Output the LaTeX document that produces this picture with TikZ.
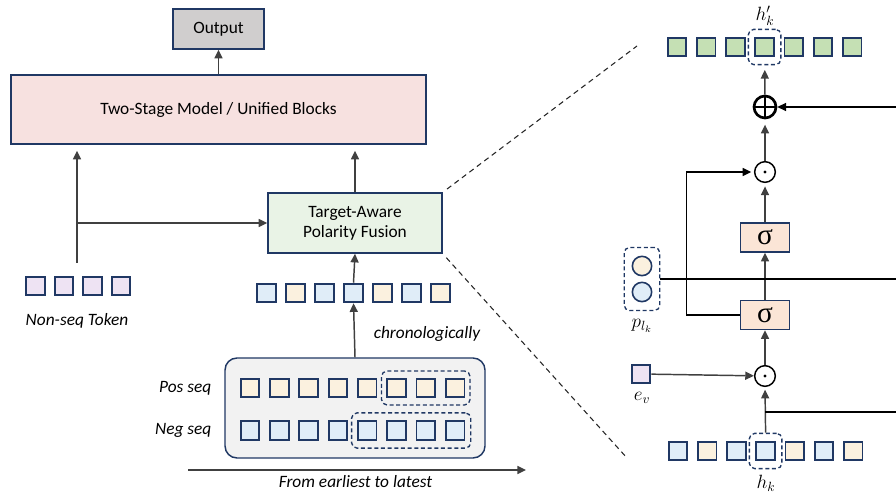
\documentclass[tikz,border=0pt]{standalone}
\usepackage{fontspec}
\setmainfont{Carlito}
\newfontfamily\sigfont{Liberation Serif}
\usetikzlibrary{arrows.meta,fit}

\definecolor{navy}{HTML}{203864}
\definecolor{arrgray}{HTML}{404040}
\definecolor{outgray}{HTML}{D0CECE}
\definecolor{pinkbg}{HTML}{F7E1E0}
\definecolor{greenbg}{HTML}{E9F3E6}
\definecolor{seqbg}{HTML}{F2F2F2}
\definecolor{tb}{HTML}{E0EDF8}
\definecolor{tc}{HTML}{FBF1DF}
\definecolor{tg}{HTML}{C5E0B4}
\definecolor{lav}{HTML}{EEE3F3}
\definecolor{peach}{HTML}{FBE5D6}

\begin{document}
\begin{tikzpicture}
  [x=0.75pt,y=-0.75pt,font=\fontsize{13}{15}\selectfont,
   box/.style={draw=navy,line width=1.1pt,inner sep=0pt,align=center},
   tok/.style={draw=navy,line width=1.4pt,minimum size=14pt,inner sep=0pt},
   dot/.style={circle,draw=navy,line width=1.2pt,minimum size=14.5pt,inner sep=0pt},
   grp/.style={draw=navy,line width=1pt,dash pattern=on 3pt off 2pt,rounded corners=4pt,inner sep=0pt},
   arr/.style={draw=arrgray,line width=1.1pt,-{Triangle[length=6.5pt,width=6pt]}},
   arrk/.style={draw=black,line width=1.1pt,-{Triangle[length=6.5pt,width=6pt]}},
   wire/.style={draw=black,line width=1.1pt},
   zoomln/.style={draw=black!85,line width=0.8pt,dash pattern=on 4pt off 3pt},
   lbl/.style={font=\fontsize{14}{16}\selectfont},
   ital/.style={font=\fontsize{13}{15}\selectfont\itshape},
   sig/.style={box,fill=peach,minimum width=36.8pt,minimum height=21.8pt,font=\sigfont\fontsize{22}{22}\selectfont},
   odot/.style={circle,draw=black,line width=1.1pt,minimum size=15.5pt,inner sep=0pt,
     path picture={\fill (path picture bounding box.center) circle (1.2pt);}},
   oplus/.style={circle,draw=black,line width=2pt,minimum size=16.5pt,inner sep=0pt,
     path picture={\draw[line width=2pt] (path picture bounding box.north) -- (path picture bounding box.south)
       (path picture bounding box.west) -- (path picture bounding box.east);}}]
  \useasboundingbox (0,0) rectangle (896,498);
  \coordinate (edge) at (896,0);

  % left: model stack
  \node[box,fill=outgray,minimum width=68.3pt,minimum height=30pt] (out) at (218.5,29) {Output};
  \node[box,fill=pinkbg,minimum width=311pt,minimum height=51.8pt] (model) at (218.5,109.5) {Two-Stage Model / Unified Blocks};
  \node[box,fill=greenbg,minimum width=130.5pt,minimum height=45pt] (fuse) at (355,223) {Target-Aware\\Polarity Fusion};

  % non-seq tokens
  \foreach \i in {1,...,4}
    \node[tok,fill=lav] (s\i) at ({35.5+28.5*(\i-1)},286) {};
  \node[ital] (nslbl) at (77,321) {Non-seq Token};
  \coordinate (nstop) at (77,263);
  \coordinate (nsjoin) at (77,223);

  % fused sequence
  \foreach \c [count=\i] in {tb,tc,tb,tb,tc,tb,tc}
    \node[tok,fill=\c] (f\i) at ({266.5+29*(\i-1)},293) {};

  % positive / negative sequences
  \node[box,fill=seqbg,rounded corners=9pt,minimum width=195pt,minimum height=75pt] (seqs) at (355,408) {};
  \foreach \i in {1,...,8} {
    \node[tok,fill=tc] (p\i) at ({250+29.3*(\i-1)},388) {};
    \node[tok,fill=tb] (n\i) at ({250+29.3*(\i-1)},430.5) {};
  }
  \node[grp,fit=(p6)(p8),inner xsep=3.5pt,inner ysep=5pt] (pgrp) {};
  \node[grp,fit=(n5)(n8),inner xsep=4pt,inner ysep=5.5pt] (ngrp) {};
  \node[ital,anchor=east] (poslbl) at (216,388) {Pos seq};
  \node[ital,anchor=east] (neglbl) at (216,430.5) {Neg seq};
  \node[ital] (chron) at (427,334) {chronologically};

  \coordinate (tl1) at (188,470);
  \coordinate (tl2) at (526,470);
  \node[ital,anchor=base,inner sep=0pt] (tllbl) at (355.5,488) {From earliest to latest};

  % left connectors
  \draw[arr] (model) -- (out);
  \draw[arr,shorten >=4.5pt] (nstop) -- (nstop |- model.south);
  \draw[arr,shorten >=4.5pt] (fuse.north) -- (fuse.north |- model.south);
  \draw[arr] (nsjoin) -- (fuse.west);
  \draw[arr] (f4.north) -- (fuse.south);
  \draw[arr] (seqs.north) -- (f4.south);
  \draw[arr] (tl1) -- (tl2);

  % zoom-in guides
  \coordinate (zt) at (637,46);
  \coordinate (zb) at (627,458);
  \draw[zoomln,shorten <=4pt] (fuse.north east) -- (zt);
  \draw[zoomln,shorten <=4pt] (fuse.south east) -- (zb);

  % right: gating detail
  \foreach \i in {1,...,7}
    \node[tok,fill=tg] (g\i) at ({677+29.2*(\i-1)},47) {};
  \node[grp,fit=(g4),inner xsep=4.5pt,inner ysep=5.5pt] (ggrp) {};
  \node[lbl] (hklbl2) at (765,16) {$h'_k$};

  \foreach \c [count=\i] in {tb,tc,tb,tb,tc,tb,tc}
    \node[tok,fill=\c] (h\i) at ({678+29.2*(\i-1)},451) {};
  \node[grp,fit=(h4),inner xsep=4.5pt,inner ysep=5.5pt] (hgrp) {};
  \node[lbl] (hklbl) at (766,483) {$h_k$};

  \node[oplus] (add) at (765,107) {};
  \node[odot] (mul2) at (765,172) {};
  \node[odot] (mul1) at (765,376) {};
  \node[sig] (sig2) at (765,237.5) {σ};
  \node[sig] (sig1) at (765,315) {σ};

  \node[dot,fill=tc] (c1) at (642,266) {};
  \node[dot,fill=tb] (c2) at (642,292) {};
  \node[grp,fit=(c1)(c2),inner xsep=5.5pt,inner ysep=6pt] (pbox) {};
  \node[lbl] (plbl) at (642,326) {$p_{l_k}$};

  \node[tok,fill=lav] (ev) at (641,374) {};
  \node[lbl] (evlbl) at (642,398) {$e_v$};
  \coordinate (hsplit) at (765,412);

  \draw[arr,shorten >=2pt] (hgrp.north) -- (mul1.south);
  \draw[arr] (ev) -- (mul1);
  \draw[arr] (mul1) -- (sig1);
  \draw[arr] (sig1) -- (sig2);
  \draw[arr,shorten >=2.5pt] (sig2) -- (mul2);
  \draw[arr,shorten >=4pt] (mul2) -- (add);
  \draw[arr,shorten >=3.5pt] (add) -- (ggrp);
  \draw[arrk,shorten >=2pt] (sig1.west) -- ++(-53,0) |- (mul2.west);
  \draw[arrk] (add.east -| edge) -- (add.east);
  \draw[wire] (pbox.east) -- (pbox.east -| edge);
  \draw[wire] (hsplit) -- (hsplit -| edge);
\end{tikzpicture}
\end{document}
